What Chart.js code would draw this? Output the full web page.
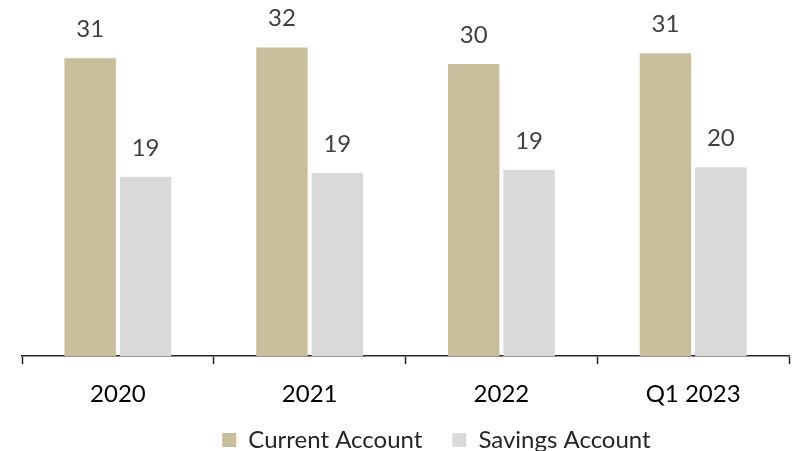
<!DOCTYPE html>
<html>
<head>
<meta charset="utf-8">
<script src="https://cdn.jsdelivr.net/npm/chart.js@4/dist/chart.umd.min.js"></script>
<style>
  html, body { margin: 0; padding: 0; background: #fff; }
  #wrap { width: 792px; height: 451px; }
</style>
</head>
<body>
<div id="wrap"><canvas id="chart"></canvas></div>
<script>
const categories = ["2020", "2021", "2022", "Q1 2023"];
const currentAccount = [30.9, 32.0, 30.3, 31.4];
const savingsAccount = [18.6, 19.0, 19.3, 19.6];

// value labels over the bars, rounded like the source
const barLabels = {
  id: "barLabels",
  afterDatasetsDraw(chart) {
    const { ctx } = chart;
    ctx.save();
    ctx.font = "24px Lato";
    ctx.fillStyle = "#404040";
    ctx.textAlign = "center";
    ctx.textBaseline = "middle";
    chart.data.datasets.forEach((ds, i) => {
      chart.getDatasetMeta(i).data.forEach((bar, j) => {
        ctx.fillText(Math.round(ds.data[j]), bar.x, bar.y - 29);
      });
    });
    ctx.restore();
  },
};

// the source legend sits right of centre and a bit higher
const legendShift = {
  id: "legendShift",
  afterLayout(chart) {
    const lg = chart.legend;
    lg.left += 31;
    lg.right += 31;
    lg.top -= 27;
    lg.bottom -= 27;
  },
};

const ctx = document.getElementById("chart").getContext("2d");
new Chart(ctx, {
  type: "bar",
  data: {
    labels: categories,
    datasets: [
      {
        label: "Current Account",
        data: currentAccount,
        backgroundColor: "#C8BF9A",
        categoryPercentage: 0.578,
        barPercentage: 0.928,
      },
      {
        label: "Savings Account",
        data: savingsAccount,
        backgroundColor: "#D9D9D9",
        categoryPercentage: 0.578,
        barPercentage: 0.928,
      },
    ],
  },
  options: {
    responsive: true,
    maintainAspectRatio: false,
    animation: false,
    layout: { padding: { top: 9, left: 22, right: 3, bottom: -38 } },
    plugins: {
      tooltip: { enabled: false },
      legend: {
        position: "bottom",
        labels: {
          font: { family: "Lato", size: 24 },
          color: "#262626",
          boxWidth: 14,
          boxHeight: 14,
          padding: 30,
        },
      },
    },
    scales: {
      x: {
        border: { display: true, color: "#262626", width: 1.5 },
        grid: {
          display: true,
          drawOnChartArea: false,
          drawTicks: true,
          tickLength: 8,
          tickColor: "#262626",
          tickWidth: 1.5,
        },
        ticks: {
          color: "#000",
          padding: 16,
          font: { family: "Lato", size: 24 },
        },
      },
      y: {
        display: false,
        min: 0,
        max: 36,
      },
    },
  },
  plugins: [barLabels, legendShift],
});
</script>
</body>
</html>
